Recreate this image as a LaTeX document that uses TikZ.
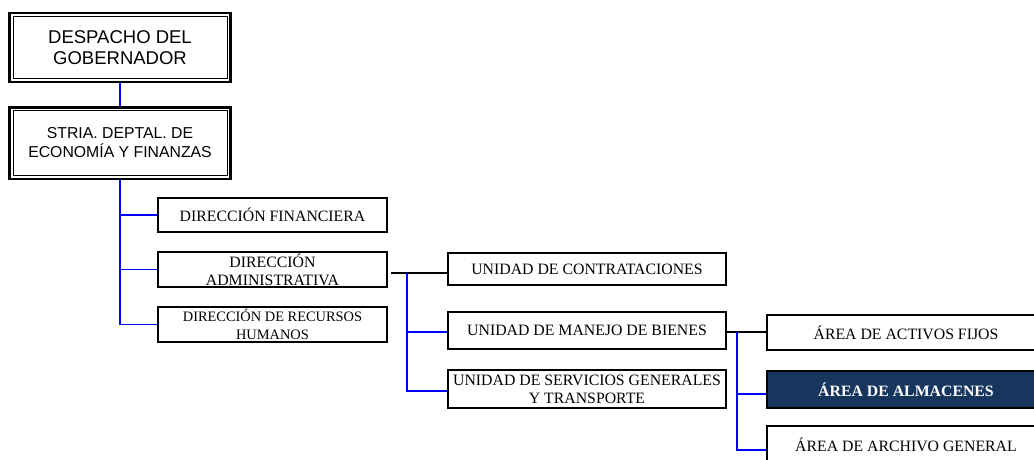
\documentclass[tikz,border=0pt]{standalone}
\usepackage{fontspec}
\setmainfont{Liberation Serif}
\newfontfamily\arialf{Liberation Sans}
\definecolor{navy}{HTML}{17365D}
\begin{document}
\begin{tikzpicture}[x=1pt,y=-1pt,
  box/.style={draw, line width=1.6pt, fill=white, inner sep=0pt, align=center,
              font=\fontsize{15.8}{18.3}\selectfont},
  dbox/.style={draw, line width=2.6pt, fill=white, inner sep=0pt, align=center},
  inner/.style={line width=1pt},
  bl/.style={draw=blue, line width=1.9pt},
  bk/.style={draw=black, line width=1.6pt}]
\useasboundingbox (0,0) rectangle (1034,459);

% top boxes
\node[dbox, minimum width=221pt, minimum height=69pt,
      font=\arialf\fontsize{18.5}{21.7}\selectfont] (desp) at (120,47.5) {DESPACHO DEL\\GOBERNADOR};
\draw[inner] ([shift={(4.8,4.8)}]desp.north west) rectangle ([shift={(-4.8,-4.8)}]desp.south east);
\node[dbox, minimum width=221pt, minimum height=71.6pt,
      font=\arialf\fontsize{15.8}{19}\selectfont] (stria) at (120,143) {STRIA. DEPTAL. DE\\ECONOMÍA Y FINANZAS};
\draw[inner] ([shift={(4.8,4.8)}]stria.north west) rectangle ([shift={(-4.8,-4.8)}]stria.south east);

% direcciones
\node[box, minimum width=229.4pt, minimum height=34.4pt] (dirfin) at (272.5,215) {DIRECCIÓN FINANCIERA};
\node[box, minimum width=229.4pt, minimum height=35.4pt] (diradm) at (272.5,269.5) {DIRECCIÓN\\ADMINISTRATIVA};
\node[box, minimum width=229.4pt, minimum height=35.4pt, font=\fontsize{14.4}{17.7}\selectfont] (dirrh) at (272.5,324.5) {DIRECCIÓN DE RECURSOS\\HUMANOS};

% unidades
\node[box, minimum width=278.4pt, minimum height=32.4pt] (contr) at (587,269) {UNIDAD DE CONTRATACIONES};
\node[box, minimum width=278.4pt, minimum height=37.4pt] (manejo) at (587,330.5) {UNIDAD DE MANEJO DE BIENES};
\node[box, minimum width=278.4pt, minimum height=38.4pt] (serv) at (587,389) {UNIDAD DE SERVICIOS GENERALES\\Y TRANSPORTE};

% areas
\node[box, minimum width=278.4pt, minimum height=35.4pt] (act) at (906,332.5) {ÁREA DE ACTIVOS FIJOS};
\node[box, fill=navy, text=white, minimum width=278.4pt, minimum height=37.4pt,
      font=\bfseries\fontsize{15.8}{18.3}\selectfont] (alm) at (906,389.5) {ÁREA DE ALMACENES};
\node[box, minimum width=278.4pt, minimum height=37.4pt] (arch) at (906,444.5) {ÁREA DE ARCHIVO GENERAL};

% connectors
\draw[bl] (desp.south) -- (stria.north);
\draw[bl] (stria.south) |- (dirrh.west);
\draw[bl] (stria.south |- dirfin.west) -- (dirfin.west);
\draw[bl] (stria.south |- diradm.west) -- (diradm.west);

\coordinate (j1) at (407,273);
\draw[bk] ([xshift=3pt]diradm.east |- j1) -- (contr.west |- j1);
\draw[bl] (j1) |- ([yshift=-1.5pt]manejo.west);
\draw[bl] (j1) |- ([yshift=-2pt]serv.west);

\coordinate (j2) at (737,332);
\draw[bk] (manejo.east |- j2) -- (act.west |- j2);
\draw[bl] (j2) |- ([yshift=-4.5pt]alm.west);
\draw[bl] (j2) |- ([yshift=-5.5pt]arch.west);
\end{tikzpicture}
\end{document}
